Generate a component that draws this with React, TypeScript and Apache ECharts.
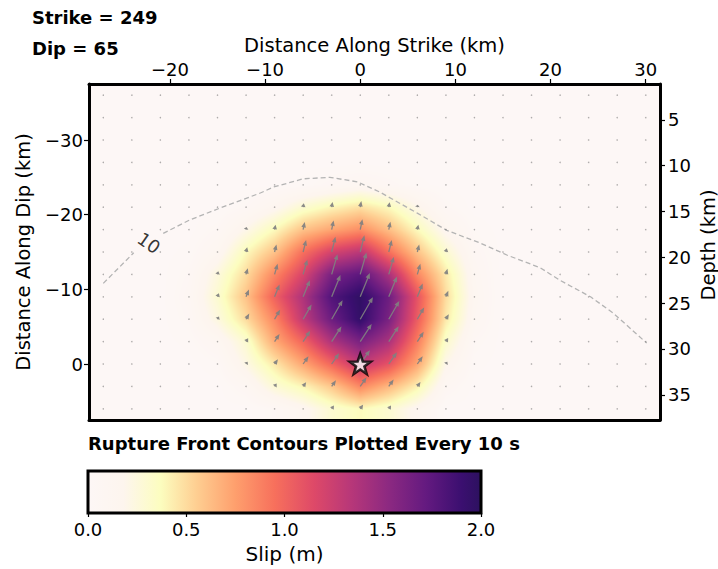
import { useEffect, useRef } from "react";
import * as echarts from "echarts";

// Fault geometry
const strikeDeg = 249;
const dipDeg = 65;

// Sub-fault centres (km)
const alongStrike = [-27, -24, -21, -18, -15, -12, -9, -6, -3, 0, 3, 6, 9, 12, 15, 18, 21, 24, 27, 30];
const alongDip = [-36, -33, -30, -27, -24, -21, -18, -15, -12, -9, -6, -3, 0, 3, 6];

// Slip (m) for each sub-fault, one row per down-dip position
const slip = [
  [0, 0, 0, 0, 0, 0, 0, 0, 0, 0, 0, 0, 0, 0, 0, 0, 0, 0, 0, 0],
  [0, 0, 0, 0, 0, 0, 0, 0, 0, 0, 0, 0, 0, 0, 0, 0, 0, 0, 0, 0],
  [0, 0, 0, 0, 0, 0, 0, 0, 0, 0, 0, 0, 0, 0, 0, 0, 0, 0, 0, 0],
  [0, 0, 0, 0, 0, 0, 0, 0, 0, 0, 0, 0, 0, 0, 0, 0, 0, 0, 0, 0],
  [0, 0, 0, 0, 0, 0, 0, 0.02, 0.06, 0.1, 0.06, 0.02, 0, 0, 0, 0, 0, 0, 0, 0],
  [0, 0, 0, 0, 0, 0.05, 0.15, 0.3, 0.4, 0.48, 0.38, 0.2, 0.05, 0, 0, 0, 0, 0, 0, 0],
  [0, 0, 0, 0, 0.05, 0.2, 0.38, 0.6, 0.72, 0.82, 0.62, 0.38, 0.15, 0.03, 0, 0, 0, 0, 0, 0],
  [0, 0, 0, 0.02, 0.12, 0.38, 0.6, 0.95, 1.2, 1.32, 0.95, 0.6, 0.3, 0.07, 0, 0, 0, 0, 0, 0],
  [0, 0, 0, 0.05, 0.25, 0.5, 0.85, 1.18, 1.62, 1.75, 1.4, 0.85, 0.45, 0.1, 0, 0, 0, 0, 0, 0],
  [0, 0, 0, 0.07, 0.3, 0.6, 1.02, 1.38, 1.8, 1.97, 1.68, 1.1, 0.5, 0.12, 0, 0, 0, 0, 0, 0],
  [0, 0, 0, 0.05, 0.24, 0.5, 0.85, 1.3, 1.68, 1.95, 1.62, 1.05, 0.45, 0.1, 0, 0, 0, 0, 0, 0],
  [0, 0, 0, 0.02, 0.1, 0.3, 0.7, 1.0, 1.38, 1.62, 1.4, 0.9, 0.32, 0.05, 0, 0, 0, 0, 0, 0],
  [0, 0, 0, 0, 0.03, 0.22, 0.45, 0.72, 1.0, 1.3, 1.1, 0.72, 0.2, 0.02, 0, 0, 0, 0, 0, 0],
  [0, 0, 0, 0, 0, 0.08, 0.28, 0.4, 0.58, 0.85, 0.65, 0.42, 0.08, 0, 0, 0, 0, 0, 0, 0],
  [0, 0, 0, 0, 0, 0, 0.05, 0.15, 0.3, 0.38, 0.3, 0.15, 0, 0, 0, 0, 0, 0, 0, 0],
];

// Rake (degrees) along each down-dip row
const rakeByRow = [80, 80, 80, 80, 80, 80, 78, 76, 74, 68, 60, 57, 55, 55, 55];

// Rupture front at 10 s, split where its label sits
const rupture10West = [[-27, -10.8], [-23.8, -14.9]];
const rupture10East = [
  [-20.7, -17.5], [-17.9, -19.3], [-14.7, -20.9], [-10.5, -22.9], [-9.1, -23.7], [-6, -24.8],
  [-3.2, -25], [-0.3, -24.4], [2.1, -23], [6, -20.2], [9.1, -17.9], [12.6, -16.2], [15.4, -14.6],
  [18.9, -12.9], [21, -11.2], [24.2, -9], [26.6, -6.8], [30.1, -2.8],
];
const rupture10Label = [-22.2, -16.2];
const hypocenter = [0, 0];

// Axis ticks
const strikeTicks = [-20, -10, 0, 10, 20, 30];
const dipTicks = [-30, -20, -10, 0];
const depthTicks = [5, 10, 15, 20, 25, 30, 35];
const depthRange = [1.1, 37.75];
const slipTicks = [0, 0.5, 1, 1.5, 2];

// White-to-magma slip colour scale (value in m, colour)
const slipColors: [number, string][] = [
  [0, "#fdf7f6"], [0.18, "#fdf5ee"], [0.37, "#fcfdbf"], [0.55, "#fecf92"], [0.75, "#fe9f6d"],
  [0.95, "#f7705c"], [1.15, "#de4968"], [1.34, "#b73779"], [1.53, "#8c2981"], [1.72, "#641a80"],
  [1.9, "#3b0f70"], [2.0, "#2c115f"],
];

const FONT = '"DejaVu Sans", Verdana, sans-serif';
const ARROW_PX_PER_M = 13;
const ARROW_COLOR = "rgba(128,128,128,0.92)";

const hexRgb = (h: string) => [parseInt(h.slice(1, 3), 16), parseInt(h.slice(3, 5), 16), parseInt(h.slice(5, 7), 16)];
const slipRgb = slipColors.map(([v, c]) => [v, ...hexRgb(c)]);

function colorOf(v: number): number[] {
  if (v <= slipRgb[0][0]) return slipRgb[0].slice(1);
  for (let k = 1; k < slipRgb.length; k++) {
    const a = slipRgb[k - 1], b = slipRgb[k];
    if (v <= b[0]) {
      const t = (v - a[0]) / (b[0] - a[0]);
      return [1, 2, 3].map((q) => a[q] + (b[q] - a[q]) * t);
    }
  }
  return slipRgb[slipRgb.length - 1].slice(1);
}

const dxCell = alongStrike[1] - alongStrike[0];
const dyCell = alongDip[1] - alongDip[0];
const xMin = alongStrike[0] - dxCell / 2;
const xMax = alongStrike[alongStrike.length - 1] + dxCell / 2;
const yMin = alongDip[0] - dyCell / 2;
const yMax = alongDip[alongDip.length - 1] + dyCell / 2;

// Bilinear shading of the sub-fault slip between patch centres
let shadeCache: { key: string; url: string } | null = null;
function slipImage(w: number, h: number): string {
  const key = w + "x" + h;
  if (shadeCache && shadeCache.key === key) return shadeCache.url;
  const cv = document.createElement("canvas");
  cv.width = w;
  cv.height = h;
  const ctx = cv.getContext("2d")!;
  const img = ctx.createImageData(w, h);
  const ni = alongStrike.length, nj = alongDip.length;
  for (let py = 0; py < h; py++) {
    const dv = yMin + ((py + 0.5) / h) * (yMax - yMin);
    let fj = (dv - alongDip[0]) / dyCell;
    fj = Math.max(0, Math.min(nj - 1, fj));
    const j0 = Math.min(nj - 2, Math.floor(fj));
    const tj = fj - j0;
    for (let px = 0; px < w; px++) {
      const xv = xMin + ((px + 0.5) / w) * (xMax - xMin);
      let fi = (xv - alongStrike[0]) / dxCell;
      fi = Math.max(0, Math.min(ni - 1, fi));
      const i0 = Math.min(ni - 2, Math.floor(fi));
      const ti = fi - i0;
      const v =
        slip[j0][i0] * (1 - ti) * (1 - tj) +
        slip[j0][i0 + 1] * ti * (1 - tj) +
        slip[j0 + 1][i0] * (1 - ti) * tj +
        slip[j0 + 1][i0 + 1] * ti * tj;
      const c = colorOf(v);
      const o = (py * w + px) * 4;
      img.data[o] = c[0];
      img.data[o + 1] = c[1];
      img.data[o + 2] = c[2];
      img.data[o + 3] = 255;
    }
  }
  ctx.putImageData(img, 0, 0);
  const url = cv.toDataURL("image/png");
  shadeCache = { key, url };
  return url;
}

const minusFmt = (v: number) => (v < 0 ? "\u2212" + Math.abs(v) : String(v));

const arrowData: number[][] = [];
alongDip.forEach((d, j) =>
  alongStrike.forEach((s, i) => arrowData.push([s, d, slip[j][i], rakeByRow[j]]))
);

const tickLabel = { fontSize: 18, color: "#000", fontFamily: FONT };
const axisTitle = { fontSize: 19.5, color: "#000", fontFamily: FONT };
const spine = { show: true, onZero: false, lineStyle: { color: "#000", width: 3 } };
const tickStyle = { color: "#000", width: 1.2 };

const STAR =
  "path://M0,-10L2.35,-3.24L9.51,-3.09L3.8,1.24L5.88,8.09L0,4L-5.88,8.09L-3.8,1.24L-9.51,-3.09L-2.35,-3.24Z";

const option: any = {
  animation: false,
  backgroundColor: "#ffffff",
  textStyle: { fontFamily: FONT },
  grid: [
    { left: 89, top: 84, width: 571, height: 336, show: false },
    { left: 88, top: 471, width: 393, height: 42, show: false },
  ],
  xAxis: [
    {
      type: "value", gridIndex: 0, position: "top", min: xMin, max: xMax,
      name: "Distance Along Strike (km)", nameLocation: "middle", nameGap: 29, nameTextStyle: axisTitle,
      axisLine: spine,
      axisTick: { show: true, customValues: strikeTicks, length: 5, lineStyle: tickStyle },
      axisLabel: { customValues: strikeTicks, formatter: minusFmt, margin: 6, ...tickLabel },
      splitLine: { show: false }, z: 10,
    },
    {
      type: "value", gridIndex: 0, position: "bottom", min: xMin, max: xMax,
      axisLine: spine, axisTick: { show: false }, axisLabel: { show: false }, splitLine: { show: false }, z: 10,
    },
    {
      type: "value", gridIndex: 1, position: "bottom", min: slipTicks[0], max: slipTicks[slipTicks.length - 1],
      name: "Slip (m)", nameLocation: "middle", nameGap: 31, nameTextStyle: { ...axisTitle, fontSize: 20 },
      axisLine: { show: false },
      axisTick: { show: true, customValues: slipTicks, length: 4, lineStyle: tickStyle },
      axisLabel: { customValues: slipTicks, formatter: (v: number) => v.toFixed(1), margin: 7, ...tickLabel },
      splitLine: { show: false }, z: 10,
    },
  ],
  yAxis: [
    {
      type: "value", gridIndex: 0, position: "left", inverse: true, min: yMin, max: yMax,
      name: "Distance Along Dip (km)", nameLocation: "middle", nameGap: 56, nameTextStyle: axisTitle,
      axisLine: spine,
      axisTick: { show: true, customValues: dipTicks, length: 5, lineStyle: tickStyle },
      axisLabel: { customValues: dipTicks, formatter: minusFmt, margin: 6, ...tickLabel },
      splitLine: { show: false }, z: 10,
    },
    {
      type: "value", gridIndex: 0, position: "right", inverse: true, min: depthRange[0], max: depthRange[1],
      axisLine: spine,
      axisTick: { show: true, customValues: depthTicks, length: 5, lineStyle: tickStyle },
      axisLabel: { customValues: depthTicks, margin: 8, ...tickLabel },
      splitLine: { show: false }, z: 10,
    },
    { type: "value", gridIndex: 1, min: 0, max: 1, show: false },
  ],
  graphic: [
    { type: "text", x: 32, y: 17, style: { text: `Strike = ${strikeDeg}`, font: `bold 18px ${FONT}`, fill: "#000", verticalAlign: "middle" } },
    { type: "text", x: 32, y: 48, style: { text: `Dip = ${dipDeg}`, font: `bold 18px ${FONT}`, fill: "#000", verticalAlign: "middle" } },
    { type: "text", x: 88, y: 443, style: { text: "Rupture Front Contours Plotted Every 10 s", font: `bold 18px ${FONT}`, fill: "#000", verticalAlign: "middle" } },
    {
      type: "text", x: 708, y: 245, rotation: Math.PI / 2,
      style: { text: "Depth (km)", font: `19.5px ${FONT}`, fill: "#000", align: "center", verticalAlign: "middle" },
    },
  ],
  series: [
    {
      type: "custom", name: "slip", xAxisIndex: 0, yAxisIndex: 0, z: 1, silent: true,
      data: [[alongStrike[0], alongDip[0]]],
      renderItem: (_p: any, api: any) => {
        const a = api.coord([xMin, yMin]);
        const b = api.coord([xMax, yMax]);
        const x = Math.min(a[0], b[0]), y = Math.min(a[1], b[1]);
        const w = Math.abs(b[0] - a[0]), h = Math.abs(b[1] - a[1]);
        return { type: "image", style: { image: slipImage(Math.round(w), Math.round(h)), x, y, width: w, height: h } };
      },
    },
    {
      type: "line", name: "rupture10w", xAxisIndex: 0, yAxisIndex: 0, z: 3, data: rupture10West,
      symbol: "none", silent: true, lineStyle: { color: "#b4b4b4", width: 1.3, type: [5, 3] },
    },
    {
      type: "line", name: "rupture10e", xAxisIndex: 0, yAxisIndex: 0, z: 3, data: rupture10East,
      symbol: "none", silent: true, lineStyle: { color: "#b4b4b4", width: 1.3, type: [5, 3] },
    },
    {
      type: "custom", name: "rake", xAxisIndex: 0, yAxisIndex: 0, z: 4, silent: true,
      data: arrowData,
      renderItem: (_p: any, api: any) => {
        const p = api.coord([api.value(0), api.value(1)]);
        const len = (api.value(2) as number) * ARROW_PX_PER_M;
        const r = ((api.value(3) as number) * Math.PI) / 180;
        if (len < 2) {
          return { type: "circle", shape: { cx: p[0], cy: p[1], r: 0.75 }, style: { fill: "rgba(110,110,110,0.55)" } };
        }
        const ux = Math.cos(r), uy = -Math.sin(r);
        const nx = -uy, ny = ux;
        const hl = Math.min(5.5, len * 0.9), hw = 2.3, w = 0.65;
        const tx = p[0] + ux * len, ty = p[1] + uy * len;
        const bx = tx - ux * hl, by = ty - uy * hl;
        const points = [
          [p[0] + nx * w, p[1] + ny * w], [bx + nx * w, by + ny * w], [bx + nx * hw, by + ny * hw], [tx, ty],
          [bx - nx * hw, by - ny * hw], [bx - nx * w, by - ny * w], [p[0] - nx * w, p[1] - ny * w],
        ];
        return { type: "polygon", shape: { points }, style: { fill: ARROW_COLOR } };
      },
    },
    {
      type: "scatter", name: "rupture10label", xAxisIndex: 0, yAxisIndex: 0, z: 5, silent: true,
      data: [rupture10Label], symbolSize: 1, itemStyle: { color: "transparent" },
      label: { show: true, position: "inside", formatter: "10", rotate: -35, fontSize: 18, color: "#000", fontFamily: FONT },
    },
    {
      type: "scatter", name: "hypocenter", xAxisIndex: 0, yAxisIndex: 0, z: 6, silent: true,
      data: [hypocenter], symbol: STAR, symbolSize: 21, symbolKeepAspect: true,
      itemStyle: { color: "#ffffff", borderColor: "#000", borderWidth: 2.6 },
    },
    {
      type: "custom", name: "colorbar", xAxisIndex: 2, yAxisIndex: 2, z: 2, silent: true,
      data: [[slipTicks[0], 0]],
      renderItem: (_p: any, api: any) => {
        const lo = slipTicks[0], hi = slipTicks[slipTicks.length - 1];
        const a = api.coord([lo, 1]);
        const b = api.coord([hi, 0]);
        const stops = slipColors.map(([v, c]) => ({ offset: (v - lo) / (hi - lo), color: c }));
        return {
          type: "rect",
          shape: { x: a[0], y: a[1], width: b[0] - a[0], height: b[1] - a[1] },
          style: { fill: new echarts.graphic.LinearGradient(0, 0, 1, 0, stops), stroke: "#000", lineWidth: 3 },
        };
      },
    },
  ],
};

export default function App() {
  const ref = useRef<HTMLDivElement>(null);
  useEffect(() => {
    const chart = echarts.init(ref.current!, null, { renderer: "svg" });
    chart.setOption(option);
    return () => chart.dispose();
  }, []);
  return <div ref={ref} style={{ position: "fixed", left: 0, top: 0, width: 718, height: 569 }} />;
}
